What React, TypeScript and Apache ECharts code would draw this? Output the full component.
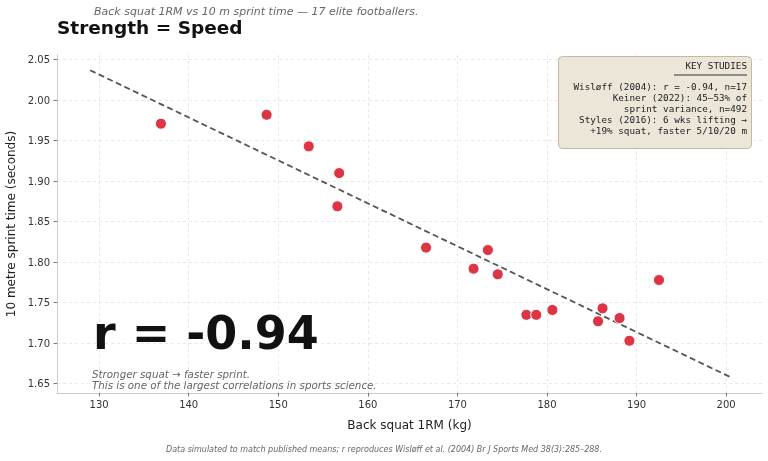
import React, { useEffect, useRef } from "react";
import * as echarts from "echarts";

const squatKg = [136.9, 148.7, 153.4, 156.8, 156.6, 166.5, 173.4, 171.8, 174.5, 177.7, 178.8, 180.6, 186.2, 185.7, 188.1, 189.2, 192.5];
const sprintSec = [1.971, 1.982, 1.943, 1.910, 1.869, 1.818, 1.815, 1.792, 1.785, 1.735, 1.735, 1.741, 1.743, 1.727, 1.731, 1.703, 1.778];
const trendX = [129, 200.5];
const trendY = [2.037, 1.658];
const xTicks = [130, 140, 150, 160, 170, 180, 190, 200];
const yTicks = [1.65, 1.7, 1.75, 1.8, 1.85, 1.9, 1.95, 2.0, 2.05];
const xLimits = [125.3, 204.0];
const yLimits = [1.6385, 2.0558];
const studyLines = [
  "Wisløff (2004): r = -0.94, n=17",
  "Keiner (2022): 45–53% of",
  "sprint variance, n=492",
  "Styles (2016): 6 wks lifting →",
  "+19% squat, faster 5/10/20 m",
];
const titleText = "Strength = Speed";
const subtitleText = "Back squat 1RM vs 10 m sprint time — 17 elite footballers.";
const bigR = "r = -0.94";
const noteLines = ["Stronger squat → faster sprint.", "This is one of the largest correlations in sports science."];
const footerText = "Data simulated to match published means; r reproduces Wisløff et al. (2004) Br J Sports Med 38(3):285–288.";

const FONT = "DejaVu Sans";
const MONO = "DejaVu Sans Mono";

export default function App() {
  const ref = useRef<HTMLDivElement>(null);
  useEffect(() => {
    if (!ref.current) return;
    const chart = echarts.init(ref.current, null, { renderer: "svg" });
    const points = squatKg.map((x, i) => [x, sprintSec[i]]);
    const trend = trendX.map((x, i) => [x, trendY[i]]);
    const axisCommon = {
      axisLine: { show: true, lineStyle: { color: "#cccccc", width: 1 } },
      axisTick: { show: true, inside: false, length: 3.5, lineStyle: { color: "#555555", width: 0.8 } },
      splitLine: { show: true, lineStyle: { color: "#e2e2e2", width: 0.8, type: [3, 3] } },
    };
    const studyGraphics: any[] = studyLines.map((t, i) => ({
      type: "text",
      x: 747,
      y: 86 + i * 11,
      z: 30,
      style: { text: t, font: `9.3px '${MONO}'`, fill: "#222222", align: "right", verticalAlign: "middle" },
    }));
    chart.setOption({
      animation: false,
      textStyle: { fontFamily: FONT },
      grid: { left: 57, right: 6, top: 55, bottom: 68, outerBoundsMode: "none", containLabel: false },
      xAxis: {
        type: "value",
        min: xLimits[0],
        max: xLimits[1],
        name: "Back squat 1RM (kg)",
        nameLocation: "middle",
        nameGap: 26,
        nameTextStyle: { fontSize: 12, color: "#222222", fontFamily: FONT },
        ...axisCommon,
        axisTick: { ...axisCommon.axisTick, customValues: xTicks },
        splitLine: { ...axisCommon.splitLine, customValues: xTicks },
        axisLabel: { customValues: xTicks, fontSize: 10, color: "#333333", margin: 6, fontFamily: FONT, formatter: (v: number) => String(Math.round(v)) },
      },
      yAxis: {
        type: "value",
        min: yLimits[0],
        max: yLimits[1],
        name: "10 metre sprint time (seconds)",
        nameLocation: "middle",
        nameGap: 35,
        nameTextStyle: { fontSize: 12, color: "#222222", fontFamily: FONT },
        ...axisCommon,
        axisTick: { ...axisCommon.axisTick, customValues: yTicks },
        splitLine: { ...axisCommon.splitLine, customValues: yTicks },
        axisLabel: { customValues: yTicks, fontSize: 10, color: "#333333", margin: 7, fontFamily: FONT, formatter: (v: number) => v.toFixed(2) },
      },
      series: [
        {
          type: "line",
          data: trend,
          showSymbol: false,
          symbol: "none",
          lineStyle: { color: "#555555", width: 1.8, type: [6, 3.5] },
          z: 2,
        },
        {
          type: "scatter",
          data: points,
          symbolSize: 11,
          itemStyle: { color: "#dc3545", borderColor: "#ffffff", borderWidth: 1, opacity: 1 },
          z: 3,
        },
      ],
      graphic: [
        { type: "text", x: 94, y: 11, style: { text: subtitleText, font: `italic 11px '${FONT}'`, fill: "#666666", verticalAlign: "middle" } },
        { type: "text", x: 57, y: 27, style: { text: titleText, font: `bold 18.5px '${FONT}'`, fill: "#111111", verticalAlign: "middle" } },
        { type: "text", x: 93, y: 333, z: 10, style: { text: bigR, font: `bold 46px '${FONT}'`, fill: "#111111", verticalAlign: "middle" } },
        { type: "text", x: 92, y: 373.5, z: 10, style: { text: noteLines[0], font: `italic 10.3px '${FONT}'`, fill: "#666666", verticalAlign: "middle" } },
        { type: "text", x: 92, y: 385, z: 10, style: { text: noteLines[1], font: `italic 10.3px '${FONT}'`, fill: "#666666", verticalAlign: "middle" } },
        { type: "text", x: 384, y: 449, style: { text: footerText, font: `italic 8px '${FONT}'`, fill: "#666666", align: "center", verticalAlign: "middle" } },
        { type: "rect", z: 20, shape: { x: 558.5, y: 56.5, width: 193, height: 92, r: 4 }, style: { fill: "#ece6d9", stroke: "#c4b89f", lineWidth: 1 } },
        { type: "text", x: 747, y: 65, z: 30, style: { text: "KEY STUDIES", font: `9.3px '${MONO}'`, fill: "#222222", align: "right", verticalAlign: "middle" } },
        { type: "line", z: 30, shape: { x1: 674, y1: 75, x2: 747, y2: 75 }, style: { stroke: "#333333", lineWidth: 1 } },
        ...studyGraphics,
      ],
    });
    return () => chart.dispose();
  }, []);
  return <div ref={ref} style={{ position: "fixed", left: 0, top: 0, width: 768, height: 461 }} />;
}
